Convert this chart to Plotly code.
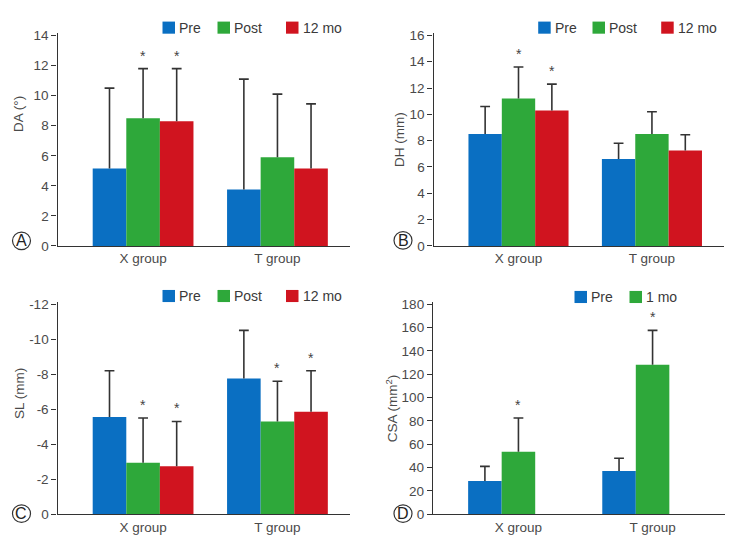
import plotly.graph_objects as go

# ---------------- data ----------------
groups = ["X group", "T group"]

# Panel A: DA (deg)
A_series = ["Pre", "Post", "12 mo"]
A_mean = [[5.15, 3.75], [8.5, 5.9], [8.3, 5.15]]
A_errtop = [[10.5, 11.1], [11.8, 10.1], [11.8, 9.45]]
A_sig = [[0, 0], [1, 0], [1, 0]]

# Panel B: DH (mm)
B_series = ["Pre", "Post", "12 mo"]
B_mean = [[8.5, 6.6], [11.2, 8.5], [10.3, 7.25]]
B_errtop = [[10.6, 7.8], [13.6, 10.2], [12.3, 8.45]]
B_sig = [[0, 0], [1, 0], [1, 0]]

# Panel C: SL (mm)
C_series = ["Pre", "Post", "12 mo"]
C_mean = [[-5.55, -7.75], [-2.95, -5.3], [-2.75, -5.85]]
C_errtop = [[-8.2, -10.5], [-5.5, -7.6], [-5.3, -8.2]]
C_sig = [[0, 0], [1, 1], [1, 1]]

# Panel D: CSA (mm2)
D_series = ["Pre", "1 mo"]
D_mean = [[28.5, 37.0], [53.5, 128.0]]
D_errtop = [[41.0, 48.0], [82.5, 157.5]]
D_sig = [[0, 0], [1, 1]]

A_ticks = [0, 2, 4, 6, 8, 10, 12, 14]
B_ticks = [0, 2, 4, 6, 8, 10, 12, 14, 16]
C_ticks = [0, -2, -4, -6, -8, -10, -12]
C_ticktext = ["0", "-2", "-4", "-6", "-8", "-10", "-12"]
D_ticks = [0, 20, 40, 60, 80, 100, 120, 140, 160, 180]

colors = ["#0a6fc2", "#2ea83a", "#d0141f"]

FONT = "Liberation Sans, Arial, sans-serif"
TXT = "#4a4a4a"
AX = "#333333"

# the page body has an 8px margin: the figure starts at (8, 8) in the window
PAD = 8
W, H = 725, 539
BARW = 0.25
OFFS = [-0.375, -0.125, 0.125]


def px(x):
    return (x - PAD) / W


def py(y):
    return 1 - (y - PAD) / H


fig = go.Figure()

panels = [
    dict(key="", mean=A_mean, top=A_errtop, sig=A_sig, series=A_series,
         xd=[57.5, 350], yd=[246.7, 28], yr=[0, 14.2], tv=A_ticks, tt=None,
         title="DA (°)", tx=18.5, ty=112, letter="A", cx=21.5, cy=241.5,
         leg_text=[178, 233, 301.5], leg_y=23),
    dict(key="2", mean=B_mean, top=B_errtop, sig=B_sig, series=B_series,
         xd=[433.5, 724], yd=[246.7, 28], yr=[0, 16.22], tv=B_ticks, tt=None,
         title="DH (mm)", tx=400, ty=137, letter="B", cx=403, cy=241,
         leg_text=[553.7, 608, 676.7], leg_y=23),
    dict(key="3", mean=C_mean, top=C_errtop, sig=C_sig, series=C_series,
         xd=[57.5, 350], yd=[521.7, 304], yr=[0, -12.13], tv=C_ticks, tt=C_ticktext,
         title="SL (mm)", tx=19.5, ty=398, letter="C", cx=21.5, cy=521,
         leg_text=[178, 233, 301.5], leg_y=298),
    dict(key="4", mean=D_mean, top=D_errtop, sig=D_sig, series=D_series,
         xd=[433, 725], yd=[521.7, 304], yr=[0, 181.9], tv=D_ticks, tt=None,
         title="CSA (mm<sup>2</sup>)", tx=392, ty=413, letter="D", cx=403, cy=521,
         leg_text=[590, 645], leg_y=299),
]

shapes = []
annotations = []

for p in panels:
    k = p["key"]
    xa = "x" + k
    ya = "y" + k
    for si, name in enumerate(p["series"]):
        vals = p["mean"][si]
        tops = p["top"][si]
        centers = [i + OFFS[si] + BARW / 2 for i in range(2)]
        fig.add_trace(go.Bar(
            x=[0, 1], y=vals, name=name, width=BARW, offset=OFFS[si],
            marker=dict(color=colors[si], line=dict(width=0)),
            xaxis=xa, yaxis=ya, showlegend=False, hoverinfo="skip"))
        # one-sided error bar: vertical stem from the bar end to the error end, cap at the end
        diff = [t - v for t, v in zip(tops, vals)]
        fig.add_trace(go.Scatter(
            x=centers, y=tops, mode="markers",
            marker=dict(symbol="line-ew", size=7, color="#333333",
                        line=dict(width=1.6, color="#333333")),
            error_y=dict(type="data", symmetric=False,
                         array=[0, 0], arrayminus=diff,
                         color="#333333", thickness=1.6, width=0),
            xaxis=xa, yaxis=ya, showlegend=False, hoverinfo="skip"))
        # significance asterisks
        for i in range(2):
            if p["sig"][si][i]:
                annotations.append(dict(text="*", x=centers[i], y=tops[i], xref=xa, yref=ya,
                                        xanchor="center", yanchor="bottom", yshift=3,
                                        showarrow=False,
                                        font=dict(family=FONT, size=14, color="#444444")))
        # legend item
        tx = p["leg_text"][si]
        ly = p["leg_y"]
        shapes.append(dict(type="rect", xref="paper", yref="paper",
                           x0=px(tx - 15.5), x1=px(tx - 3),
                           y0=py(ly + 6.2), y1=py(ly - 6.2),
                           fillcolor=colors[si], line=dict(width=0)))
        annotations.append(dict(text=name, xref="paper", yref="paper",
                                x=px(tx - 1), y=py(ly), xanchor="left", yanchor="middle",
                                showarrow=False,
                                font=dict(family=FONT, size=14, color="#3a3a3a")))

    dom_x = [px(p["xd"][0]), px(p["xd"][1])]
    dom_y = [py(p["yd"][0]), py(p["yd"][1])]
    xname = "xaxis" + k
    yname = "yaxis" + k
    fig.layout[xname] = dict(domain=dom_x, anchor=ya, range=[-0.637, 1.54],
                             tickvals=[0, 1], ticktext=groups, ticks="",
                             showline=True, linecolor=AX, linewidth=1.3,
                             showgrid=False, zeroline=False, fixedrange=True,
                             tickfont=dict(family=FONT, size=13.5, color=TXT))
    ydict = dict(domain=dom_y, anchor=xa, range=p["yr"], tickvals=p["tv"],
                 ticks="outside", ticklen=5, tickcolor=AX, tickwidth=1.2,
                 showline=True, linecolor=AX, linewidth=1.3,
                 showgrid=False, zeroline=False, fixedrange=True,
                 tickfont=dict(family=FONT, size=13.5, color=TXT))
    if p["tt"] is not None:
        ydict["ticktext"] = p["tt"]
    fig.layout[yname] = ydict

    annotations.append(dict(text=p["title"], xref="paper", yref="paper",
                            x=px(p["tx"]), y=py(p["ty"]), xanchor="center", yanchor="middle",
                            textangle=-90, showarrow=False,
                            font=dict(family=FONT, size=13.5, color=TXT)))
    r = 9
    shapes.append(dict(type="circle", xref="paper", yref="paper",
                       x0=px(p["cx"] - r), x1=px(p["cx"] + r),
                       y0=py(p["cy"] + r), y1=py(p["cy"] - r),
                       line=dict(color="#333333", width=1.2)))
    annotations.append(dict(text=p["letter"], xref="paper", yref="paper",
                            x=px(p["cx"]), y=py(p["cy"]), xanchor="center", yanchor="middle",
                            showarrow=False,
                            font=dict(family=FONT, size=16, color="#222222")))

fig.update_layout(width=W, height=H, margin=dict(l=0, r=0, t=0, b=0),
                  paper_bgcolor="white", plot_bgcolor="white",
                  barmode="overlay", shapes=shapes, annotations=annotations,
                  font=dict(family=FONT))

fig.write_html("out.html", config={"displayModeBar": False})
